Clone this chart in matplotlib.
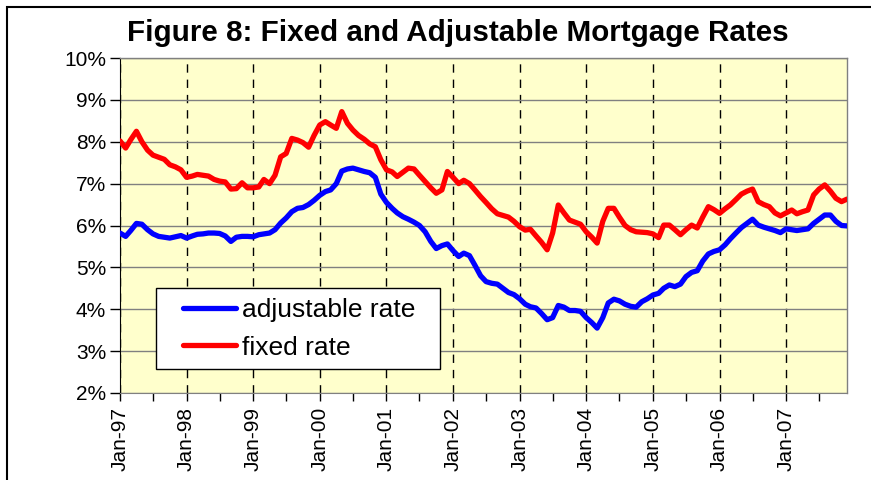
import numpy as np
import pandas as pd
import matplotlib
matplotlib.use("Agg")
import matplotlib.pyplot as plt
import matplotlib.dates as mdates
from matplotlib.patches import Rectangle

plt.rcParams['font.family'] = ['Liberation Sans', 'DejaVu Sans']

# monthly data, Jan 1997 - Dec 2007
months = pd.date_range("1997-01-01", periods=132, freq="MS")

fixed_rate = [
    8.02, 7.85, 8.05, 8.25, 8.00, 7.80, 7.68, 7.63, 7.58, 7.45, 7.40, 7.33,
    7.15, 7.18, 7.22, 7.20, 7.18, 7.10, 7.06, 7.04, 6.87, 6.88, 7.02, 6.90,
    6.90, 6.92, 7.10, 7.00, 7.20, 7.64, 7.72, 8.08, 8.04, 7.98, 7.87, 8.15,
    8.40, 8.48, 8.40, 8.32, 8.72, 8.44, 8.28, 8.15, 8.06, 7.95, 7.88, 7.57,
    7.33, 7.28, 7.17, 7.27, 7.37, 7.35, 7.20, 7.05, 6.90, 6.77, 6.85, 7.29,
    7.15, 7.00, 7.08, 7.00, 6.85, 6.69, 6.55, 6.40, 6.28, 6.24, 6.20, 6.10,
    5.97, 5.89, 5.91, 5.75, 5.60, 5.42, 5.82, 6.49, 6.30, 6.13, 6.08, 6.03,
    5.85, 5.72, 5.58, 6.10, 6.41, 6.41, 6.20, 6.00, 5.90, 5.85, 5.84, 5.83,
    5.80, 5.71, 6.01, 6.01, 5.90, 5.78, 5.90, 6.01, 5.94, 6.20, 6.45, 6.38,
    6.29, 6.40, 6.49, 6.62, 6.75, 6.82, 6.87, 6.57, 6.50, 6.45, 6.30, 6.23,
    6.30, 6.37, 6.28, 6.33, 6.37, 6.73, 6.87, 6.97, 6.82, 6.65, 6.57, 6.63,
]

adjustable_rate = [
    5.82, 5.74, 5.88, 6.05, 6.03, 5.90, 5.80, 5.74, 5.72, 5.70, 5.73, 5.76,
    5.70, 5.75, 5.79, 5.80, 5.82, 5.82, 5.81, 5.75, 5.62, 5.72, 5.74, 5.74,
    5.73, 5.78, 5.80, 5.82, 5.90, 6.06, 6.18, 6.33, 6.41, 6.43, 6.50, 6.60,
    6.72, 6.81, 6.85, 7.00, 7.30, 7.35, 7.37, 7.33, 7.29, 7.26, 7.15, 6.75,
    6.55, 6.41, 6.30, 6.21, 6.15, 6.08, 6.00, 5.85, 5.62, 5.45, 5.52, 5.56,
    5.40, 5.26, 5.34, 5.28, 5.05, 4.80, 4.66, 4.62, 4.60, 4.50, 4.40, 4.35,
    4.25, 4.12, 4.06, 4.03, 3.90, 3.75, 3.80, 4.09, 4.05, 3.97, 3.97, 3.95,
    3.80, 3.68, 3.55, 3.80, 4.15, 4.24, 4.20, 4.12, 4.07, 4.05, 4.18, 4.25,
    4.34, 4.38, 4.50, 4.58, 4.54, 4.60, 4.78, 4.88, 4.92, 5.15, 5.32, 5.38,
    5.42, 5.54, 5.68, 5.82, 5.95, 6.05, 6.15, 6.01, 5.96, 5.92, 5.88, 5.83,
    5.92, 5.90, 5.88, 5.90, 5.92, 6.05, 6.15, 6.25, 6.25, 6.10, 6.00, 5.99,
]

y_ticks = [2, 3, 4, 5, 6, 7, 8, 9, 10]

fig = plt.figure(figsize=(8.71, 4.8), dpi=100)
ax = fig.add_axes([120 / 871, 1 - 393 / 480, 727 / 871, 335 / 480])
ax.set_facecolor("#FFFFCC")

# outer chart frame (runs off the right/bottom of the image)
fig.patches.append(Rectangle((7 / 871, -0.1), 1.2, 1 - 7 / 480 + 0.1,
                             transform=fig.transFigure, fill=False,
                             edgecolor="black", linewidth=1.5))

ax.plot(months, adjustable_rate, color="#0000FF", lw=3.8, label="adjustable rate",
        solid_joinstyle="round", solid_capstyle="round", zorder=3)
ax.plot(months, fixed_rate, color="#FF0000", lw=3.8, label="fixed rate",
        solid_joinstyle="round", solid_capstyle="round", zorder=3)

ax.set_ylim(2, 10)
ax.set_yticks(y_ticks)
ax.set_yticklabels([f"{t}%" for t in y_ticks])
ax.set_xlim(months[0], months[-1])

ax.xaxis.set_major_locator(mdates.YearLocator(1, month=1, day=1))
ax.xaxis.set_major_formatter(mdates.DateFormatter("%b-%y"))
ax.xaxis.set_minor_locator(mdates.MonthLocator(bymonth=[7]))
plt.setp(ax.get_xticklabels(), rotation=90)

# grid: solid grey for rates, dashed black for years
ax.yaxis.grid(True, color="#808080", lw=1.0, zorder=1)
ax.xaxis.grid(True, which="major", color="black", lw=1.0,
              linestyle=(0, (6, 5)), zorder=1)
ax.set_axisbelow(True)

ax.tick_params(axis="y", labelsize=15, length=7, width=1, direction="out", pad=3)
ax.tick_params(axis="x", which="major", labelsize=15, length=6, width=1,
               direction="out", pad=4)
ax.tick_params(axis="x", which="minor", length=6, width=1, direction="out")

for side in ["top", "right"]:
    ax.spines[side].set_color("#808080")
    ax.spines[side].set_linewidth(1)
ax.spines["left"].set_color("black")
ax.spines["bottom"].set_color("#808080")

# legend box drawn by hand, legend entries placed inside it
ax.add_patch(Rectangle((0.0495, 0.0716), 0.3907, 0.2418, transform=ax.transAxes,
                       facecolor="white", edgecolor="black", lw=1, zorder=4))
leg = ax.legend(loc="center left", bbox_to_anchor=(0.0867, 0.191), fontsize=19,
                frameon=False, borderaxespad=0, borderpad=0,
                handlelength=2.0, handletextpad=0.25, labelspacing=0.5)
leg.set_zorder(5)

fig.text(458 / 871, 1 - 33 / 480, "Figure 8: Fixed and Adjustable Mortgage Rates",
         ha="center", va="center", fontsize=21.3, fontweight="bold")

fig.savefig("out.png", dpi=100)
